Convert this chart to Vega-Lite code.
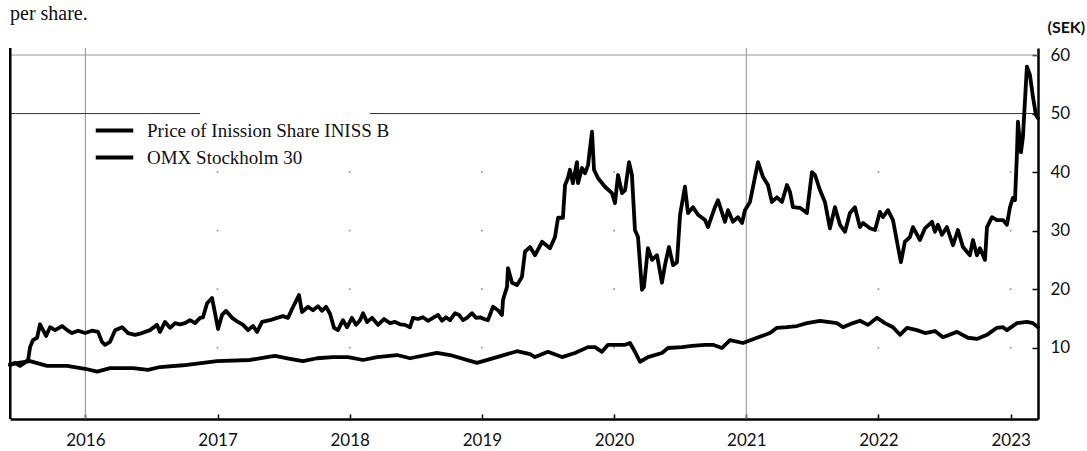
{
  "$schema": "https://vega.github.io/schema/vega-lite/v6.json",
  "width": 1028,
  "height": 371,
  "autosize": {"type": "none"},
  "padding": {"left": 10, "top": 48, "right": 49, "bottom": 32},
  "background": "white",
  "title": {"text": "per share.", "anchor": "start", "frame": "group", "font": "Liberation Serif", "fontSize": 20, "fontWeight": "normal", "color": "#111", "offset": 4, "dy": 25, "baseline": "alphabetic"},
  "config": {"view": {"stroke": null}},
  "datasets": {
    "dots": [
      {"t": 2017, "v": 10}, {"t": 2017, "v": 20}, {"t": 2017, "v": 30}, {"t": 2017, "v": 40},
      {"t": 2018, "v": 10}, {"t": 2018, "v": 20}, {"t": 2018, "v": 30}, {"t": 2018, "v": 40},
      {"t": 2019, "v": 10}, {"t": 2019, "v": 20}, {"t": 2019, "v": 30}, {"t": 2019, "v": 40},
      {"t": 2020, "v": 10}, {"t": 2020, "v": 20}, {"t": 2020, "v": 30}, {"t": 2020, "v": 40},
      {"t": 2022, "v": 10}, {"t": 2022, "v": 20}, {"t": 2022, "v": 30}, {"t": 2022, "v": 40},
      {"t": 2023, "v": 10}, {"t": 2023, "v": 20}, {"t": 2023, "v": 30}, {"t": 2023, "v": 40}
    ],
    "vgrid": [{"t": 2016}, {"t": 2021}],
    "h60": [{"v": 60}],
    "h50": [{"v": 50, "t": 2015.43, "t2": 2016.868}, {"v": 50, "t": 2018.154, "t2": 2023.207}],
    "leftframe": [{"t": 2015.432}],
    "series": [
      {"s": "Price of Inission Share INISS B", "t": 2015.430, "v": 7.0},
      {"s": "Price of Inission Share INISS B", "t": 2015.468, "v": 7.4},
      {"s": "Price of Inission Share INISS B", "t": 2015.506, "v": 6.9},
      {"s": "Price of Inission Share INISS B", "t": 2015.544, "v": 7.5},
      {"s": "Price of Inission Share INISS B", "t": 2015.567, "v": 7.9},
      {"s": "Price of Inission Share INISS B", "t": 2015.582, "v": 10.1},
      {"s": "Price of Inission Share INISS B", "t": 2015.604, "v": 11.3},
      {"s": "Price of Inission Share INISS B", "t": 2015.635, "v": 11.7},
      {"s": "Price of Inission Share INISS B", "t": 2015.657, "v": 14.0},
      {"s": "Price of Inission Share INISS B", "t": 2015.680, "v": 13.0},
      {"s": "Price of Inission Share INISS B", "t": 2015.703, "v": 12.0},
      {"s": "Price of Inission Share INISS B", "t": 2015.733, "v": 13.5},
      {"s": "Price of Inission Share INISS B", "t": 2015.771, "v": 13.0},
      {"s": "Price of Inission Share INISS B", "t": 2015.824, "v": 13.7},
      {"s": "Price of Inission Share INISS B", "t": 2015.862, "v": 13.0},
      {"s": "Price of Inission Share INISS B", "t": 2015.899, "v": 12.5},
      {"s": "Price of Inission Share INISS B", "t": 2015.945, "v": 12.9},
      {"s": "Price of Inission Share INISS B", "t": 2015.998, "v": 12.5},
      {"s": "Price of Inission Share INISS B", "t": 2016.051, "v": 12.9},
      {"s": "Price of Inission Share INISS B", "t": 2016.096, "v": 12.7},
      {"s": "Price of Inission Share INISS B", "t": 2016.126, "v": 11.0},
      {"s": "Price of Inission Share INISS B", "t": 2016.149, "v": 10.5},
      {"s": "Price of Inission Share INISS B", "t": 2016.187, "v": 11.0},
      {"s": "Price of Inission Share INISS B", "t": 2016.225, "v": 13.0},
      {"s": "Price of Inission Share INISS B", "t": 2016.278, "v": 13.5},
      {"s": "Price of Inission Share INISS B", "t": 2016.323, "v": 12.5},
      {"s": "Price of Inission Share INISS B", "t": 2016.376, "v": 12.2},
      {"s": "Price of Inission Share INISS B", "t": 2016.429, "v": 12.5},
      {"s": "Price of Inission Share INISS B", "t": 2016.489, "v": 13.0},
      {"s": "Price of Inission Share INISS B", "t": 2016.542, "v": 13.9},
      {"s": "Price of Inission Share INISS B", "t": 2016.565, "v": 12.7},
      {"s": "Price of Inission Share INISS B", "t": 2016.603, "v": 14.4},
      {"s": "Price of Inission Share INISS B", "t": 2016.641, "v": 13.4},
      {"s": "Price of Inission Share INISS B", "t": 2016.679, "v": 14.2},
      {"s": "Price of Inission Share INISS B", "t": 2016.716, "v": 14.0},
      {"s": "Price of Inission Share INISS B", "t": 2016.754, "v": 14.2},
      {"s": "Price of Inission Share INISS B", "t": 2016.792, "v": 14.7},
      {"s": "Price of Inission Share INISS B", "t": 2016.830, "v": 14.2},
      {"s": "Price of Inission Share INISS B", "t": 2016.868, "v": 15.1},
      {"s": "Price of Inission Share INISS B", "t": 2016.890, "v": 15.2},
      {"s": "Price of Inission Share INISS B", "t": 2016.921, "v": 17.6},
      {"s": "Price of Inission Share INISS B", "t": 2016.958, "v": 18.5},
      {"s": "Price of Inission Share INISS B", "t": 2016.981, "v": 15.9},
      {"s": "Price of Inission Share INISS B", "t": 2017.004, "v": 13.2},
      {"s": "Price of Inission Share INISS B", "t": 2017.034, "v": 15.6},
      {"s": "Price of Inission Share INISS B", "t": 2017.064, "v": 16.3},
      {"s": "Price of Inission Share INISS B", "t": 2017.110, "v": 15.1},
      {"s": "Price of Inission Share INISS B", "t": 2017.155, "v": 14.4},
      {"s": "Price of Inission Share INISS B", "t": 2017.193, "v": 13.9},
      {"s": "Price of Inission Share INISS B", "t": 2017.231, "v": 13.0},
      {"s": "Price of Inission Share INISS B", "t": 2017.269, "v": 13.7},
      {"s": "Price of Inission Share INISS B", "t": 2017.299, "v": 12.7},
      {"s": "Price of Inission Share INISS B", "t": 2017.337, "v": 14.4},
      {"s": "Price of Inission Share INISS B", "t": 2017.397, "v": 14.7},
      {"s": "Price of Inission Share INISS B", "t": 2017.450, "v": 15.1},
      {"s": "Price of Inission Share INISS B", "t": 2017.495, "v": 15.4},
      {"s": "Price of Inission Share INISS B", "t": 2017.533, "v": 15.1},
      {"s": "Price of Inission Share INISS B", "t": 2017.564, "v": 16.6},
      {"s": "Price of Inission Share INISS B", "t": 2017.616, "v": 19.0},
      {"s": "Price of Inission Share INISS B", "t": 2017.639, "v": 16.1},
      {"s": "Price of Inission Share INISS B", "t": 2017.685, "v": 17.0},
      {"s": "Price of Inission Share INISS B", "t": 2017.722, "v": 16.4},
      {"s": "Price of Inission Share INISS B", "t": 2017.760, "v": 17.1},
      {"s": "Price of Inission Share INISS B", "t": 2017.790, "v": 16.3},
      {"s": "Price of Inission Share INISS B", "t": 2017.821, "v": 17.0},
      {"s": "Price of Inission Share INISS B", "t": 2017.851, "v": 15.8},
      {"s": "Price of Inission Share INISS B", "t": 2017.881, "v": 13.4},
      {"s": "Price of Inission Share INISS B", "t": 2017.911, "v": 13.0},
      {"s": "Price of Inission Share INISS B", "t": 2017.949, "v": 14.7},
      {"s": "Price of Inission Share INISS B", "t": 2017.980, "v": 13.5},
      {"s": "Price of Inission Share INISS B", "t": 2018.017, "v": 15.1},
      {"s": "Price of Inission Share INISS B", "t": 2018.048, "v": 13.9},
      {"s": "Price of Inission Share INISS B", "t": 2018.078, "v": 14.7},
      {"s": "Price of Inission Share INISS B", "t": 2018.101, "v": 15.9},
      {"s": "Price of Inission Share INISS B", "t": 2018.131, "v": 14.4},
      {"s": "Price of Inission Share INISS B", "t": 2018.169, "v": 15.1},
      {"s": "Price of Inission Share INISS B", "t": 2018.214, "v": 13.9},
      {"s": "Price of Inission Share INISS B", "t": 2018.259, "v": 14.9},
      {"s": "Price of Inission Share INISS B", "t": 2018.305, "v": 14.2},
      {"s": "Price of Inission Share INISS B", "t": 2018.343, "v": 14.4},
      {"s": "Price of Inission Share INISS B", "t": 2018.381, "v": 14.0},
      {"s": "Price of Inission Share INISS B", "t": 2018.418, "v": 13.9},
      {"s": "Price of Inission Share INISS B", "t": 2018.456, "v": 13.5},
      {"s": "Price of Inission Share INISS B", "t": 2018.479, "v": 15.1},
      {"s": "Price of Inission Share INISS B", "t": 2018.517, "v": 14.9},
      {"s": "Price of Inission Share INISS B", "t": 2018.554, "v": 15.2},
      {"s": "Price of Inission Share INISS B", "t": 2018.592, "v": 14.6},
      {"s": "Price of Inission Share INISS B", "t": 2018.630, "v": 15.1},
      {"s": "Price of Inission Share INISS B", "t": 2018.668, "v": 15.6},
      {"s": "Price of Inission Share INISS B", "t": 2018.698, "v": 14.6},
      {"s": "Price of Inission Share INISS B", "t": 2018.728, "v": 15.2},
      {"s": "Price of Inission Share INISS B", "t": 2018.759, "v": 14.7},
      {"s": "Price of Inission Share INISS B", "t": 2018.797, "v": 15.9},
      {"s": "Price of Inission Share INISS B", "t": 2018.827, "v": 15.6},
      {"s": "Price of Inission Share INISS B", "t": 2018.857, "v": 14.7},
      {"s": "Price of Inission Share INISS B", "t": 2018.887, "v": 15.1},
      {"s": "Price of Inission Share INISS B", "t": 2018.925, "v": 15.9},
      {"s": "Price of Inission Share INISS B", "t": 2018.955, "v": 15.1},
      {"s": "Price of Inission Share INISS B", "t": 2018.986, "v": 15.2},
      {"s": "Price of Inission Share INISS B", "t": 2019.016, "v": 14.9},
      {"s": "Price of Inission Share INISS B", "t": 2019.046, "v": 14.7},
      {"s": "Price of Inission Share INISS B", "t": 2019.084, "v": 17.0},
      {"s": "Price of Inission Share INISS B", "t": 2019.122, "v": 16.4},
      {"s": "Price of Inission Share INISS B", "t": 2019.152, "v": 15.6},
      {"s": "Price of Inission Share INISS B", "t": 2019.160, "v": 18.2},
      {"s": "Price of Inission Share INISS B", "t": 2019.190, "v": 20.4},
      {"s": "Price of Inission Share INISS B", "t": 2019.197, "v": 23.6},
      {"s": "Price of Inission Share INISS B", "t": 2019.228, "v": 21.1},
      {"s": "Price of Inission Share INISS B", "t": 2019.266, "v": 20.7},
      {"s": "Price of Inission Share INISS B", "t": 2019.303, "v": 22.1},
      {"s": "Price of Inission Share INISS B", "t": 2019.326, "v": 26.4},
      {"s": "Price of Inission Share INISS B", "t": 2019.364, "v": 27.2},
      {"s": "Price of Inission Share INISS B", "t": 2019.402, "v": 25.8},
      {"s": "Price of Inission Share INISS B", "t": 2019.455, "v": 28.1},
      {"s": "Price of Inission Share INISS B", "t": 2019.515, "v": 27.0},
      {"s": "Price of Inission Share INISS B", "t": 2019.553, "v": 28.9},
      {"s": "Price of Inission Share INISS B", "t": 2019.576, "v": 32.2},
      {"s": "Price of Inission Share INISS B", "t": 2019.613, "v": 32.2},
      {"s": "Price of Inission Share INISS B", "t": 2019.629, "v": 37.8},
      {"s": "Price of Inission Share INISS B", "t": 2019.651, "v": 39.0},
      {"s": "Price of Inission Share INISS B", "t": 2019.666, "v": 40.4},
      {"s": "Price of Inission Share INISS B", "t": 2019.689, "v": 38.1},
      {"s": "Price of Inission Share INISS B", "t": 2019.719, "v": 41.7},
      {"s": "Price of Inission Share INISS B", "t": 2019.727, "v": 38.1},
      {"s": "Price of Inission Share INISS B", "t": 2019.757, "v": 40.7},
      {"s": "Price of Inission Share INISS B", "t": 2019.780, "v": 39.8},
      {"s": "Price of Inission Share INISS B", "t": 2019.803, "v": 41.2},
      {"s": "Price of Inission Share INISS B", "t": 2019.833, "v": 46.9},
      {"s": "Price of Inission Share INISS B", "t": 2019.848, "v": 40.4},
      {"s": "Price of Inission Share INISS B", "t": 2019.878, "v": 39.0},
      {"s": "Price of Inission Share INISS B", "t": 2019.931, "v": 37.5},
      {"s": "Price of Inission Share INISS B", "t": 2019.984, "v": 36.4},
      {"s": "Price of Inission Share INISS B", "t": 2020.007, "v": 34.7},
      {"s": "Price of Inission Share INISS B", "t": 2020.030, "v": 39.5},
      {"s": "Price of Inission Share INISS B", "t": 2020.060, "v": 36.4},
      {"s": "Price of Inission Share INISS B", "t": 2020.083, "v": 36.9},
      {"s": "Price of Inission Share INISS B", "t": 2020.113, "v": 41.7},
      {"s": "Price of Inission Share INISS B", "t": 2020.135, "v": 39.5},
      {"s": "Price of Inission Share INISS B", "t": 2020.158, "v": 30.1},
      {"s": "Price of Inission Share INISS B", "t": 2020.181, "v": 28.9},
      {"s": "Price of Inission Share INISS B", "t": 2020.211, "v": 19.9},
      {"s": "Price of Inission Share INISS B", "t": 2020.226, "v": 20.4},
      {"s": "Price of Inission Share INISS B", "t": 2020.256, "v": 27.0},
      {"s": "Price of Inission Share INISS B", "t": 2020.287, "v": 25.0},
      {"s": "Price of Inission Share INISS B", "t": 2020.325, "v": 25.8},
      {"s": "Price of Inission Share INISS B", "t": 2020.362, "v": 21.1},
      {"s": "Price of Inission Share INISS B", "t": 2020.385, "v": 24.1},
      {"s": "Price of Inission Share INISS B", "t": 2020.415, "v": 27.2},
      {"s": "Price of Inission Share INISS B", "t": 2020.446, "v": 24.1},
      {"s": "Price of Inission Share INISS B", "t": 2020.476, "v": 24.6},
      {"s": "Price of Inission Share INISS B", "t": 2020.499, "v": 32.7},
      {"s": "Price of Inission Share INISS B", "t": 2020.536, "v": 37.5},
      {"s": "Price of Inission Share INISS B", "t": 2020.559, "v": 33.0},
      {"s": "Price of Inission Share INISS B", "t": 2020.597, "v": 34.0},
      {"s": "Price of Inission Share INISS B", "t": 2020.635, "v": 32.7},
      {"s": "Price of Inission Share INISS B", "t": 2020.688, "v": 31.8},
      {"s": "Price of Inission Share INISS B", "t": 2020.710, "v": 30.6},
      {"s": "Price of Inission Share INISS B", "t": 2020.763, "v": 34.0},
      {"s": "Price of Inission Share INISS B", "t": 2020.786, "v": 35.2},
      {"s": "Price of Inission Share INISS B", "t": 2020.839, "v": 31.5},
      {"s": "Price of Inission Share INISS B", "t": 2020.862, "v": 33.5},
      {"s": "Price of Inission Share INISS B", "t": 2020.899, "v": 31.5},
      {"s": "Price of Inission Share INISS B", "t": 2020.937, "v": 32.3},
      {"s": "Price of Inission Share INISS B", "t": 2020.968, "v": 31.3},
      {"s": "Price of Inission Share INISS B", "t": 2020.990, "v": 33.5},
      {"s": "Price of Inission Share INISS B", "t": 2021.028, "v": 34.9},
      {"s": "Price of Inission Share INISS B", "t": 2021.089, "v": 41.7},
      {"s": "Price of Inission Share INISS B", "t": 2021.126, "v": 39.2},
      {"s": "Price of Inission Share INISS B", "t": 2021.164, "v": 37.8},
      {"s": "Price of Inission Share INISS B", "t": 2021.194, "v": 34.9},
      {"s": "Price of Inission Share INISS B", "t": 2021.232, "v": 35.7},
      {"s": "Price of Inission Share INISS B", "t": 2021.270, "v": 34.9},
      {"s": "Price of Inission Share INISS B", "t": 2021.308, "v": 37.8},
      {"s": "Price of Inission Share INISS B", "t": 2021.331, "v": 36.6},
      {"s": "Price of Inission Share INISS B", "t": 2021.353, "v": 34.0},
      {"s": "Price of Inission Share INISS B", "t": 2021.406, "v": 33.9},
      {"s": "Price of Inission Share INISS B", "t": 2021.459, "v": 33.0},
      {"s": "Price of Inission Share INISS B", "t": 2021.497, "v": 40.0},
      {"s": "Price of Inission Share INISS B", "t": 2021.520, "v": 39.5},
      {"s": "Price of Inission Share INISS B", "t": 2021.558, "v": 36.9},
      {"s": "Price of Inission Share INISS B", "t": 2021.595, "v": 34.9},
      {"s": "Price of Inission Share INISS B", "t": 2021.633, "v": 30.4},
      {"s": "Price of Inission Share INISS B", "t": 2021.671, "v": 34.0},
      {"s": "Price of Inission Share INISS B", "t": 2021.709, "v": 31.0},
      {"s": "Price of Inission Share INISS B", "t": 2021.747, "v": 29.8},
      {"s": "Price of Inission Share INISS B", "t": 2021.784, "v": 33.0},
      {"s": "Price of Inission Share INISS B", "t": 2021.822, "v": 34.0},
      {"s": "Price of Inission Share INISS B", "t": 2021.860, "v": 30.6},
      {"s": "Price of Inission Share INISS B", "t": 2021.883, "v": 31.3},
      {"s": "Price of Inission Share INISS B", "t": 2021.936, "v": 30.4},
      {"s": "Price of Inission Share INISS B", "t": 2021.974, "v": 30.1},
      {"s": "Price of Inission Share INISS B", "t": 2022.011, "v": 33.2},
      {"s": "Price of Inission Share INISS B", "t": 2022.034, "v": 32.3},
      {"s": "Price of Inission Share INISS B", "t": 2022.072, "v": 33.5},
      {"s": "Price of Inission Share INISS B", "t": 2022.110, "v": 31.8},
      {"s": "Price of Inission Share INISS B", "t": 2022.148, "v": 27.2},
      {"s": "Price of Inission Share INISS B", "t": 2022.170, "v": 24.6},
      {"s": "Price of Inission Share INISS B", "t": 2022.200, "v": 28.1},
      {"s": "Price of Inission Share INISS B", "t": 2022.238, "v": 28.9},
      {"s": "Price of Inission Share INISS B", "t": 2022.261, "v": 30.6},
      {"s": "Price of Inission Share INISS B", "t": 2022.314, "v": 28.4},
      {"s": "Price of Inission Share INISS B", "t": 2022.352, "v": 30.4},
      {"s": "Price of Inission Share INISS B", "t": 2022.405, "v": 31.5},
      {"s": "Price of Inission Share INISS B", "t": 2022.427, "v": 29.8},
      {"s": "Price of Inission Share INISS B", "t": 2022.450, "v": 31.0},
      {"s": "Price of Inission Share INISS B", "t": 2022.480, "v": 29.3},
      {"s": "Price of Inission Share INISS B", "t": 2022.518, "v": 30.6},
      {"s": "Price of Inission Share INISS B", "t": 2022.564, "v": 27.5},
      {"s": "Price of Inission Share INISS B", "t": 2022.601, "v": 30.1},
      {"s": "Price of Inission Share INISS B", "t": 2022.639, "v": 27.2},
      {"s": "Price of Inission Share INISS B", "t": 2022.692, "v": 25.8},
      {"s": "Price of Inission Share INISS B", "t": 2022.715, "v": 28.4},
      {"s": "Price of Inission Share INISS B", "t": 2022.745, "v": 25.8},
      {"s": "Price of Inission Share INISS B", "t": 2022.768, "v": 27.0},
      {"s": "Price of Inission Share INISS B", "t": 2022.806, "v": 25.0},
      {"s": "Price of Inission Share INISS B", "t": 2022.821, "v": 30.6},
      {"s": "Price of Inission Share INISS B", "t": 2022.859, "v": 32.3},
      {"s": "Price of Inission Share INISS B", "t": 2022.896, "v": 31.8},
      {"s": "Price of Inission Share INISS B", "t": 2022.942, "v": 31.8},
      {"s": "Price of Inission Share INISS B", "t": 2022.972, "v": 31.0},
      {"s": "Price of Inission Share INISS B", "t": 2022.995, "v": 34.0},
      {"s": "Price of Inission Share INISS B", "t": 2023.017, "v": 35.6},
      {"s": "Price of Inission Share INISS B", "t": 2023.033, "v": 35.2},
      {"s": "Price of Inission Share INISS B", "t": 2023.048, "v": 43.3},
      {"s": "Price of Inission Share INISS B", "t": 2023.055, "v": 48.6},
      {"s": "Price of Inission Share INISS B", "t": 2023.078, "v": 43.4},
      {"s": "Price of Inission Share INISS B", "t": 2023.093, "v": 46.0},
      {"s": "Price of Inission Share INISS B", "t": 2023.123, "v": 58.0},
      {"s": "Price of Inission Share INISS B", "t": 2023.146, "v": 56.6},
      {"s": "Price of Inission Share INISS B", "t": 2023.169, "v": 52.8},
      {"s": "Price of Inission Share INISS B", "t": 2023.191, "v": 49.8},
      {"s": "Price of Inission Share INISS B", "t": 2023.207, "v": 49.2},
      {"s": "OMX Stockholm 30", "t": 2015.430, "v": 7.2},
      {"s": "OMX Stockholm 30", "t": 2015.582, "v": 7.7},
      {"s": "OMX Stockholm 30", "t": 2015.710, "v": 6.9},
      {"s": "OMX Stockholm 30", "t": 2015.862, "v": 6.9},
      {"s": "OMX Stockholm 30", "t": 2015.998, "v": 6.4},
      {"s": "OMX Stockholm 30", "t": 2016.089, "v": 5.9},
      {"s": "OMX Stockholm 30", "t": 2016.187, "v": 6.5},
      {"s": "OMX Stockholm 30", "t": 2016.361, "v": 6.5},
      {"s": "OMX Stockholm 30", "t": 2016.474, "v": 6.2},
      {"s": "OMX Stockholm 30", "t": 2016.565, "v": 6.7},
      {"s": "OMX Stockholm 30", "t": 2016.739, "v": 7.0},
      {"s": "OMX Stockholm 30", "t": 2016.996, "v": 7.7},
      {"s": "OMX Stockholm 30", "t": 2017.246, "v": 7.9},
      {"s": "OMX Stockholm 30", "t": 2017.374, "v": 8.4},
      {"s": "OMX Stockholm 30", "t": 2017.435, "v": 8.6},
      {"s": "OMX Stockholm 30", "t": 2017.548, "v": 8.1},
      {"s": "OMX Stockholm 30", "t": 2017.647, "v": 7.7},
      {"s": "OMX Stockholm 30", "t": 2017.753, "v": 8.2},
      {"s": "OMX Stockholm 30", "t": 2017.874, "v": 8.4},
      {"s": "OMX Stockholm 30", "t": 2017.987, "v": 8.4},
      {"s": "OMX Stockholm 30", "t": 2018.101, "v": 7.9},
      {"s": "OMX Stockholm 30", "t": 2018.207, "v": 8.4},
      {"s": "OMX Stockholm 30", "t": 2018.358, "v": 8.75},
      {"s": "OMX Stockholm 30", "t": 2018.456, "v": 8.2},
      {"s": "OMX Stockholm 30", "t": 2018.660, "v": 9.1},
      {"s": "OMX Stockholm 30", "t": 2018.759, "v": 8.75},
      {"s": "OMX Stockholm 30", "t": 2018.963, "v": 7.4},
      {"s": "OMX Stockholm 30", "t": 2019.114, "v": 8.4},
      {"s": "OMX Stockholm 30", "t": 2019.266, "v": 9.4},
      {"s": "OMX Stockholm 30", "t": 2019.364, "v": 8.9},
      {"s": "OMX Stockholm 30", "t": 2019.402, "v": 8.4},
      {"s": "OMX Stockholm 30", "t": 2019.500, "v": 9.3},
      {"s": "OMX Stockholm 30", "t": 2019.606, "v": 8.4},
      {"s": "OMX Stockholm 30", "t": 2019.704, "v": 9.1},
      {"s": "OMX Stockholm 30", "t": 2019.803, "v": 10.1},
      {"s": "OMX Stockholm 30", "t": 2019.856, "v": 10.1},
      {"s": "OMX Stockholm 30", "t": 2019.909, "v": 9.3},
      {"s": "OMX Stockholm 30", "t": 2019.954, "v": 10.5},
      {"s": "OMX Stockholm 30", "t": 2020.083, "v": 10.5},
      {"s": "OMX Stockholm 30", "t": 2020.120, "v": 10.8},
      {"s": "OMX Stockholm 30", "t": 2020.158, "v": 9.3},
      {"s": "OMX Stockholm 30", "t": 2020.196, "v": 7.6},
      {"s": "OMX Stockholm 30", "t": 2020.256, "v": 8.4},
      {"s": "OMX Stockholm 30", "t": 2020.362, "v": 9.1},
      {"s": "OMX Stockholm 30", "t": 2020.408, "v": 9.95},
      {"s": "OMX Stockholm 30", "t": 2020.514, "v": 10.1},
      {"s": "OMX Stockholm 30", "t": 2020.589, "v": 10.3},
      {"s": "OMX Stockholm 30", "t": 2020.688, "v": 10.5},
      {"s": "OMX Stockholm 30", "t": 2020.748, "v": 10.5},
      {"s": "OMX Stockholm 30", "t": 2020.816, "v": 9.95},
      {"s": "OMX Stockholm 30", "t": 2020.877, "v": 11.3},
      {"s": "OMX Stockholm 30", "t": 2020.975, "v": 10.8},
      {"s": "OMX Stockholm 30", "t": 2021.081, "v": 11.7},
      {"s": "OMX Stockholm 30", "t": 2021.179, "v": 12.5},
      {"s": "OMX Stockholm 30", "t": 2021.232, "v": 13.4},
      {"s": "OMX Stockholm 30", "t": 2021.308, "v": 13.5},
      {"s": "OMX Stockholm 30", "t": 2021.384, "v": 13.7},
      {"s": "OMX Stockholm 30", "t": 2021.459, "v": 14.2},
      {"s": "OMX Stockholm 30", "t": 2021.558, "v": 14.6},
      {"s": "OMX Stockholm 30", "t": 2021.686, "v": 14.2},
      {"s": "OMX Stockholm 30", "t": 2021.732, "v": 13.5},
      {"s": "OMX Stockholm 30", "t": 2021.807, "v": 14.2},
      {"s": "OMX Stockholm 30", "t": 2021.860, "v": 14.6},
      {"s": "OMX Stockholm 30", "t": 2021.921, "v": 13.9},
      {"s": "OMX Stockholm 30", "t": 2021.989, "v": 15.1},
      {"s": "OMX Stockholm 30", "t": 2022.049, "v": 14.2},
      {"s": "OMX Stockholm 30", "t": 2022.110, "v": 13.5},
      {"s": "OMX Stockholm 30", "t": 2022.163, "v": 12.2},
      {"s": "OMX Stockholm 30", "t": 2022.216, "v": 13.4},
      {"s": "OMX Stockholm 30", "t": 2022.291, "v": 13.0},
      {"s": "OMX Stockholm 30", "t": 2022.352, "v": 12.5},
      {"s": "OMX Stockholm 30", "t": 2022.427, "v": 12.85},
      {"s": "OMX Stockholm 30", "t": 2022.488, "v": 11.8},
      {"s": "OMX Stockholm 30", "t": 2022.594, "v": 12.7},
      {"s": "OMX Stockholm 30", "t": 2022.677, "v": 11.7},
      {"s": "OMX Stockholm 30", "t": 2022.745, "v": 11.5},
      {"s": "OMX Stockholm 30", "t": 2022.821, "v": 12.2},
      {"s": "OMX Stockholm 30", "t": 2022.896, "v": 13.4},
      {"s": "OMX Stockholm 30", "t": 2022.942, "v": 13.5},
      {"s": "OMX Stockholm 30", "t": 2022.972, "v": 13.0},
      {"s": "OMX Stockholm 30", "t": 2023.048, "v": 14.2},
      {"s": "OMX Stockholm 30", "t": 2023.123, "v": 14.4},
      {"s": "OMX Stockholm 30", "t": 2023.169, "v": 14.2},
      {"s": "OMX Stockholm 30", "t": 2023.207, "v": 13.5}
    ]
  },
  "layer": [
    {
      "data": {"name": "dots"},
      "mark": {"type": "square", "size": 3, "color": "#9a9a9a", "opacity": 1},
      "encoding": {
        "x": {"field": "t", "type": "quantitative", "scale": {"domain": [2015.43, 2023.207], "nice": false, "zero": false}},
        "y": {"field": "v", "type": "quantitative", "scale": {"domain": [-2.18, 61.2], "nice": false, "zero": false}}
      }
    },
    {
      "data": {"name": "vgrid"},
      "mark": {"type": "rule", "color": "#8c8c8c", "strokeWidth": 1},
      "encoding": {
        "x": {"field": "t", "type": "quantitative", "scale": {"domain": [2015.43, 2023.207], "nice": false, "zero": false}}
      }
    },
    {
      "data": {"name": "h60"},
      "mark": {"type": "rule", "color": "#9a9a9a", "strokeWidth": 1},
      "encoding": {
        "y": {"field": "v", "type": "quantitative", "scale": {"domain": [-2.18, 61.2], "nice": false, "zero": false}}
      }
    },
    {
      "data": {"name": "h50"},
      "mark": {"type": "rule", "color": "#333333", "strokeWidth": 1},
      "encoding": {
        "x": {"field": "t", "type": "quantitative", "scale": {"domain": [2015.43, 2023.207], "nice": false, "zero": false}},
        "x2": {"field": "t2"},
        "y": {"field": "v", "type": "quantitative", "scale": {"domain": [-2.18, 61.2], "nice": false, "zero": false}}
      }
    },
    {
      "data": {"name": "leftframe"},
      "mark": {"type": "rule", "color": "#000000", "strokeWidth": 2.5},
      "encoding": {
        "x": {"field": "t", "type": "quantitative", "scale": {"domain": [2015.43, 2023.207], "nice": false, "zero": false}}
      }
    },
    {
      "data": {"name": "series"},
      "mark": {"type": "line", "strokeWidth": 3.8, "strokeJoin": "round", "strokeCap": "round"},
      "encoding": {
        "x": {
          "field": "t", "type": "quantitative",
          "scale": {"domain": [2015.43, 2023.207], "nice": false, "zero": false},
          "axis": {"values": [2016, 2017, 2018, 2019, 2020, 2021, 2022, 2023], "format": "d", "title": null, "grid": false,
            "labelFont": "Lato", "labelFontSize": 17, "labelColor": "#111", "labelPadding": 18, "labelFlush": false, "labelOverlap": false,
            "tickSize": -5, "tickColor": "#000", "tickWidth": 1.5, "domainColor": "#000", "domainWidth": 2.5}
        },
        "y": {
          "field": "v", "type": "quantitative",
          "scale": {"domain": [-2.18, 61.2], "nice": false, "zero": false},
          "axis": {"orient": "right", "values": [10, 20, 30, 40, 50, 60], "grid": false,
            "title": "(SEK)", "titleAngle": 0, "titleX": 9, "titleY": -21, "titleAlign": "left", "titleBaseline": "middle",
            "titleFont": "Lato", "titleFontSize": 16, "titleFontWeight": "bold", "titleColor": "#111",
            "labelFont": "Lato", "labelFontSize": 17, "labelColor": "#111", "labelPadding": 18, "labelAlign": "left", "labelBaseline": "middle",
            "tickSize": -6, "tickColor": "#000", "tickWidth": 1.5, "domainColor": "#000", "domainWidth": 2.5}
        },
        "color": {
          "field": "s", "type": "nominal",
          "scale": {"domain": ["Price of Inission Share INISS B", "OMX Stockholm 30"], "range": ["#000000", "#000000"]},
          "legend": {"orient": "none", "legendX": 90, "legendY": 68, "title": null, "symbolType": "M-1.5,0L1.5,0", "symbolSize": 625,
            "symbolStrokeWidth": 4, "labelFont": "Liberation Serif", "labelFontSize": 19, "labelColor": "#111", "labelOffset": 18,
            "rowPadding": 2, "padding": 0, "labelLimit": 400}
        }
      }
    }
  ]
}
